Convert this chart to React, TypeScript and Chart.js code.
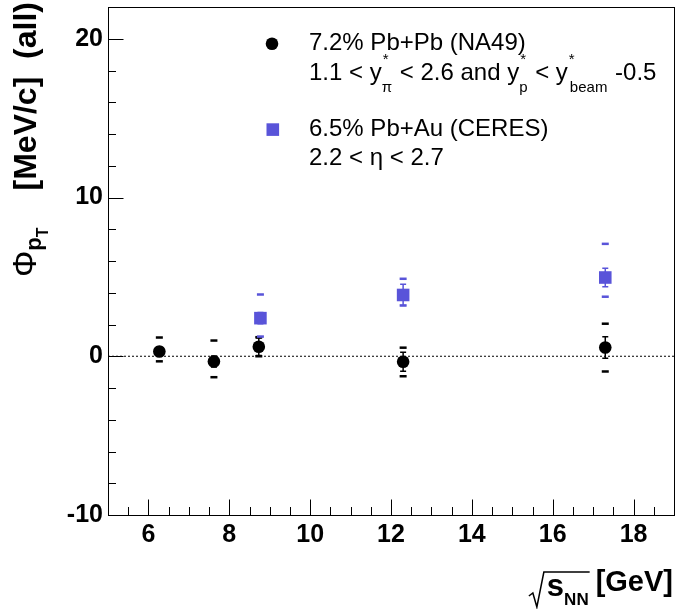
import React, { useEffect, useRef } from "react";
import { Chart, registerables } from "chart.js";

Chart.register(...registerables);

// ---------------- data ----------------
const na49X = [6.27, 7.62, 8.73, 12.3, 17.3];
const na49Y = [0.3, -0.33, 0.6, -0.35, 0.55];
const na49Stat = [0.3, 0.35, 0.55, 0.6, 0.68];
const na49SysUp = [0.88, 1.32, 0.6, 0.89, 1.5];
const na49SysDown = [0.62, 0.99, 0.6, 0.91, 1.51];

const ceresX = [8.77, 12.3, 17.3];
const ceresY = [2.4, 3.86, 4.96];
const ceresStat = [0.35, 0.67, 0.58];
const ceresSysUp = [1.49, 1.02, 2.12];
const ceresSysDown = [1.16, 0.66, 1.21];

const xTickValues = [6, 8, 10, 12, 14, 16, 18];
const yTickValues = [-10, 0, 10, 20];
const xRange = [5, 19];
const yRange = [-10, 22];
const referenceLevel = 0;

const legendLine1 = "7.2% Pb+Pb (NA49)";
const legendLine3 = "6.5% Pb+Au (CERES)";
const legendLine4 = "2.2 < η < 2.7";

// ---------------- style ----------------
const BLUE = "rgb(89, 84, 217)";
const FONT = "'Liberation Sans', Arial, Helvetica, sans-serif";
const W = 678;
const H = 609;

function txt(
  ctx: CanvasRenderingContext2D,
  s: string,
  x: number,
  y: number,
  size: number,
  bold = false,
  align: CanvasTextAlign = "left"
) {
  ctx.font = `${bold ? "bold " : ""}${size}px ${FONT}`;
  ctx.textAlign = align;
  ctx.textBaseline = "alphabetic";
  ctx.fillStyle = "#000";
  ctx.fillText(s, x, y);
  return ctx.measureText(s).width;
}

const errSets = [
  { ds: 0, ys: na49Y, stat: na49Stat, up: na49SysUp, down: na49SysDown, color: "#000" },
  { ds: 1, ys: ceresY, stat: ceresStat, up: ceresSysUp, down: ceresSysDown, color: BLUE },
];

const rootPlugin = {
  id: "rootStyle",
  beforeDatasetsDraw(chart: any) {
    const ctx: CanvasRenderingContext2D = chart.ctx;
    const yS = chart.scales.y;
    ctx.save();
    for (const set of errSets) {
      const meta = chart.getDatasetMeta(set.ds);
      meta.data.forEach((el: any, i: number) => {
        const px = el.x;
        const yTop = yS.getPixelForValue(set.ys[i] + set.stat[i]);
        const yBot = yS.getPixelForValue(set.ys[i] - set.stat[i]);
        ctx.strokeStyle = set.color;
        ctx.lineWidth = 1.5;
        ctx.beginPath();
        ctx.moveTo(px, yTop);
        ctx.lineTo(px, yBot);
        ctx.moveTo(px - 3, yTop);
        ctx.lineTo(px + 3, yTop);
        ctx.moveTo(px - 3, yBot);
        ctx.lineTo(px + 3, yBot);
        ctx.stroke();
        ctx.fillStyle = set.color;
        const sUp = yS.getPixelForValue(set.ys[i] + set.up[i]);
        const sDn = yS.getPixelForValue(set.ys[i] - set.down[i]);
        ctx.fillRect(px - 3.5, sUp - 1.25, 7, 2.5);
        ctx.fillRect(px - 3.5, sDn - 1.25, 7, 2.5);
      });
    }
    ctx.restore();
  },
  afterDraw(chart: any) {
    const ctx: CanvasRenderingContext2D = chart.ctx;
    const a = chart.chartArea;
    const xS = chart.scales.x;
    const yS = chart.scales.y;
    ctx.save();
    // frame
    ctx.strokeStyle = "#000";
    ctx.lineWidth = 1;
    ctx.strokeRect(Math.round(a.left) + 0.5, Math.round(a.top) + 0.5, Math.round(a.right - a.left), Math.round(a.bottom - a.top));
    // x ticks
    ctx.beginPath();
    for (let v = xRange[0]; v <= xRange[1] + 1e-9; v += 0.5) {
      const px = Math.round(xS.getPixelForValue(v)) + 0.5;
      const major = xTickValues.includes(v);
      ctx.moveTo(px, a.bottom);
      ctx.lineTo(px, a.bottom - (major ? 15.5 : 8));
    }
    // y ticks
    for (let v = yRange[0]; v <= yRange[1] + 1e-9; v += 2) {
      const py = Math.round(yS.getPixelForValue(v)) + 0.5;
      const major = yTickValues.includes(v);
      ctx.moveTo(a.left, py);
      ctx.lineTo(a.left + (major ? 15.5 : 8), py);
    }
    ctx.stroke();

    // legend
    ctx.fillStyle = "#000";
    ctx.beginPath();
    ctx.arc(272, 43.7, 6.3, 0, Math.PI * 2);
    ctx.fill();
    ctx.fillStyle = BLUE;
    ctx.fillRect(266.5, 123.3, 12.6, 12.6);

    const lx = 309;
    txt(ctx, legendLine1, lx, 50, 24);
    let x = lx;
    const y2 = 80;
    x += txt(ctx, "1.1 < y", x, y2, 24);
    {
      const w1 = txt(ctx, "*", x + 1, y2 - 16, 15);
      const w2 = txt(ctx, "π", x, y2 + 12, 15);
      x += Math.max(w1, w2) + 1;
    }
    x += txt(ctx, " < 2.6 and y", x, y2, 24);
    {
      const w1 = txt(ctx, "*", x + 1, y2 - 16, 15);
      const w2 = txt(ctx, "p", x, y2 + 12, 15);
      x += Math.max(w1, w2) + 1;
    }
    x += txt(ctx, " < y", x, y2, 24);
    {
      const w1 = txt(ctx, "*", x + 1, y2 - 16, 15);
      const w2 = txt(ctx, "beam", x + 2, y2 + 12, 15);
      x += Math.max(w1, w2) + 3;
    }
    txt(ctx, " -0.5", x, y2, 24);
    txt(ctx, legendLine3, lx, 136, 24);
    txt(ctx, legendLine4, lx, 165, 24);

    // y title (rotated)
    ctx.save();
    ctx.translate(36, 277);
    ctx.rotate(-Math.PI / 2);
    let t = 0;
    t += txt(ctx, "Φ", t, 0, 33);
    t += txt(ctx, "p", t, 5, 22, true);
    t += txt(ctx, "T", t, 12, 16, true);
    txt(ctx, "[MeV/c]  (all)", 275, 0, 32, true, "right");
    ctx.restore();

    // x title
    ctx.save();
    const gevW = txt(ctx, "[GeV]", 673, 591, 29, true, "right");
    const nnRight = 673 - gevW - 7;
    const nnW = txt(ctx, "NN", nnRight, 605, 17, true, "right");
    const sRight = nnRight - nnW;
    const sW = txt(ctx, "s", sRight, 596, 31, true, "right");
    const rootLeft = sRight - sW - 3;
    ctx.strokeStyle = "#000";
    ctx.lineWidth = 1.5;
    ctx.beginPath();
    ctx.moveTo(rootLeft - 15, 596);
    ctx.lineTo(rootLeft - 11, 593);
    ctx.lineTo(rootLeft - 7, 607);
    ctx.lineTo(rootLeft, 572);
    ctx.lineTo(nnRight + 1, 572);
    ctx.stroke();
    ctx.restore();

    ctx.restore();
  },
};

const noPad = (axis: any) => {
  axis.paddingLeft = 0;
  axis.paddingRight = 0;
  axis.paddingTop = 0;
  axis.paddingBottom = 0;
};

export default function App() {
  const ref = useRef<HTMLCanvasElement>(null);
  useEffect(() => {
    const canvas = ref.current;
    if (!canvas) return;
    const chart = new Chart(canvas, {
      type: "scatter",
      data: {
        datasets: [
          {
            label: "NA49",
            data: na49X.map((x, i) => ({ x, y: na49Y[i] })),
            pointStyle: "circle",
            pointRadius: 6.3,
            backgroundColor: "#000",
            borderColor: "#000",
            borderWidth: 0,
            order: 1,
          },
          {
            label: "CERES",
            data: ceresX.map((x, i) => ({ x, y: ceresY[i] })),
            pointStyle: "rect",
            pointRadius: 8.9,
            backgroundColor: BLUE,
            borderColor: BLUE,
            borderWidth: 0,
            order: 0,
          },
          {
            label: "zero",
            data: xRange.map((x) => ({ x, y: referenceLevel })),
            showLine: true,
            borderColor: "#000",
            borderWidth: 1,
            borderDash: [2, 2],
            pointRadius: 0,
            order: 5,
          },
        ],
      } as any,
      options: {
        responsive: false,
        animation: false,
        events: [],
        devicePixelRatio: 1,
        layout: { autoPadding: false, padding: { top: 7, right: 4, left: 0, bottom: 0 } },
        plugins: { legend: { display: false }, tooltip: { enabled: false } },
        scales: {
          x: {
            type: "linear",
            min: xRange[0],
            max: xRange[1],
            grid: { display: false, drawTicks: false },
            border: { display: false },
            afterBuildTicks: (axis: any) => {
              axis.ticks = xTickValues.map((v) => ({ value: v }));
            },
            afterFit: (axis: any) => {
              axis.height = 94;
              noPad(axis);
            },
            ticks: {
              color: "#000",
              padding: 5,
              maxRotation: 0,
              autoSkip: false,
              font: { family: FONT, size: 25, weight: "bold" },
              callback: (v: any) => String(v),
            },
          },
          y: {
            type: "linear",
            min: yRange[0],
            max: yRange[1],
            grid: { display: false, drawTicks: false },
            border: { display: false },
            afterBuildTicks: (axis: any) => {
              axis.ticks = yTickValues.map((v) => ({ value: v }));
            },
            afterFit: (axis: any) => {
              axis.width = 108;
              noPad(axis);
            },
            ticks: {
              color: "#000",
              padding: 5,
              autoSkip: false,
              font: { family: FONT, size: 25, weight: "bold" },
              callback: (v: any) => String(v),
            },
          },
        },
      } as any,
      plugins: [rootPlugin],
    });
    return () => chart.destroy();
  }, []);
  return (
    <div style={{ position: "absolute", left: 0, top: 0, width: W, height: H, background: "#fff" }}>
      <canvas ref={ref} width={W} height={H} style={{ display: "block", width: W, height: H }} />
    </div>
  );
}
